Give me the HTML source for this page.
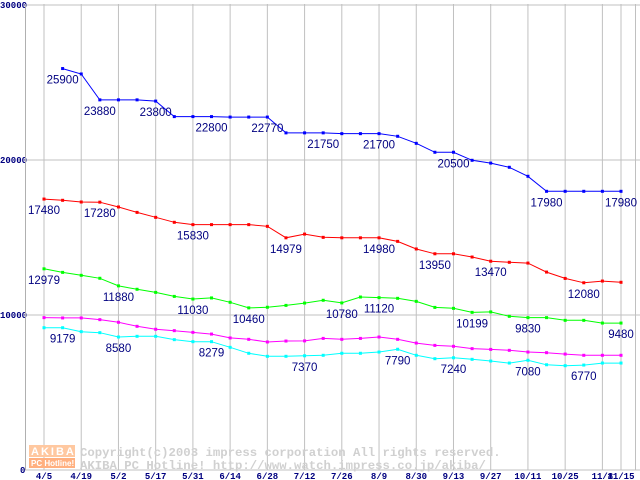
<!DOCTYPE html>
<html><head><meta charset="utf-8"><style>
body{margin:0;background:#fff;width:640px;height:480px;overflow:hidden}
svg{display:block}
.lbl{font-family:"Liberation Sans",sans-serif;font-size:11.5px;fill:#000080}
.ax{font-family:"Liberation Mono",monospace;font-size:9px;font-weight:bold;fill:#000080}
</style></head><body>
<svg id="chart" width="640" height="480" xmlns="http://www.w3.org/2000/svg"></svg>
<script>
const dateLabels=["4/5","4/19","5/2","5/17","5/31","6/14","6/28","7/12","7/26","8/9","8/30","9/13","9/27","10/11","10/25","11/8","11/15"];
const dateIdx=[0,2,4,6,8,10,12,14,16,18,20,22,24,26,28,30,31];
const yTicks=[0,10000,20000,30000];
const blue=[null,25900,25550,23880,23880,23880,23800,22800,22800,22800,22770,22770,22770,21750,21750,21750,21700,21700,21700,21530,21075,20500,20500,19980,19800,19530,18950,17980,17980,17980,17980,17980];
const red=[17480,17400,17290,17280,16970,16620,16300,15980,15830,15830,15830,15830,15720,14979,15220,15010,14980,14980,14980,14750,14260,13950,13950,13740,13470,13400,13350,12770,12360,12080,12190,12110];
const green=[12979,12750,12560,12370,11880,11660,11460,11200,11030,11100,10820,10460,10500,10620,10770,10950,10780,11160,11120,11075,10880,10490,10430,10170,10199,9915,9830,9830,9655,9655,9480,9480];
const magenta=[9830,9810,9810,9700,9530,9270,9080,8990,8880,8770,8520,8430,8260,8320,8330,8490,8430,8490,8580,8430,8190,8040,7980,7830,7780,7720,7610,7570,7480,7400,7400,7400];
const cyan=[9179,9179,8925,8860,8580,8625,8625,8410,8279,8279,7915,7530,7335,7335,7370,7400,7530,7530,7610,7790,7400,7180,7240,7140,7030,6900,7080,6790,6730,6770,6900,6900];
const blueLabels=[[1,"25900"],[3,"23880"],[6,"23800"],[9,"22800"],[12,"22770"],[15,"21750"],[18,"21700"],[22,"20500"],[27,"17980"],[31,"17980"]];
const redLabels=[[0,"17480"],[3,"17280"],[8,"15830"],[13,"14979"],[18,"14980"],[21,"13950"],[24,"13470"],[29,"12080"]];
const greenLabels=[[0,"12979"],[4,"11880"],[8,"11030"],[11,"10460"],[16,"10780"],[18,"11120"],[23,"10199"],[26,"9830"],[31,"9480"]];
const cyanLabels=[[1,"9179"],[4,"8580"],[9,"8279"],[14,"7370"],[19,"7790"],[22,"7240"],[26,"7080"],[29,"6770"]];

const svg=document.getElementById('chart');
const NS="http://www.w3.org/2000/svg";
const X=i=>44+i*(577/31);
const Y=v=>470-v*0.0155;
function mk(tag,attrs,parent){const e=document.createElementNS(NS,tag);for(const k in attrs)e.setAttribute(k,attrs[k]);(parent||svg).appendChild(e);return e;}

dateIdx.forEach((d,k)=>{
  const l=mk('line',{x1:X(d),x2:X(d),y1:4,y2:470,stroke:'#c0c0c0','stroke-width':1});
  
  
  const t=mk('text',{x:X(d),y:479,'text-anchor':'middle',class:'ax'});
  t.textContent=dateLabels[k];
  
  
});
yTicks.forEach(v=>{
  const l=mk('line',{x1:25,x2:640,y1:Y(v),y2:Y(v),stroke:'#c0c0c0','stroke-width':1});
  
  
  const t=mk('text',{x:v===0?20:0,y:Y(v)+3,class:'ax'});
  t.textContent=String(v);
  
  
});
const ax=mk('line',{x1:25.5,x2:25.5,y1:4,y2:470,stroke:'#b0b0b0','stroke-width':1});


const rb=mk('line',{x1:635.5,x2:635.5,y1:4,y2:470,stroke:'#c0c0c0','stroke-width':1});



const wm=mk('g',{});


mk('rect',{x:29,y:445,width:46,height:12,fill:'#ffc8a0'},wm);
mk('rect',{x:29,y:458,width:46,height:10,fill:'#ffb080'},wm);
const w1=mk('text',{x:31,y:455,'font-family':'Liberation Sans,sans-serif','font-size':'11','font-weight':'bold',fill:'#fff','letter-spacing':'2'},wm);w1.textContent='AKIBA';
const w2=mk('text',{x:31,y:466,'font-family':'Liberation Sans,sans-serif','font-size':'8','font-weight':'bold',fill:'#fff'},wm);w2.textContent='PC Hotline!';
const w3=mk('text',{x:80,y:456,'font-family':'Liberation Mono,monospace','font-size':'12.3','font-weight':'bold',fill:'#d0d0d0'},wm);w3.textContent='Copyright(c)2003 impress corporation All rights reserved.';
const w4=mk('text',{x:80,y:469,'font-family':'Liberation Mono,monospace','font-size':'12.3','font-weight':'bold',fill:'#d0d0d0'},wm);w4.textContent='AKIBA PC Hotline!  http://www.watch.impress.co.jp/akiba/';

function series(data,color,name,labels){
  const g=mk('g',{});
  
  
  let pts=[];
  data.forEach((v,i)=>{if(v!==null)pts.push(X(i).toFixed(1)+','+Y(v).toFixed(1));});
  mk('polyline',{points:pts.join(' '),fill:'none',stroke:color,'stroke-width':1},g);
  data.forEach((v,i)=>{
    if(v===null)return;
    const r=mk('rect',{x:X(i)-1.5,y:Y(v)-1.5,width:3,height:3,fill:color},g);
    
    
  });
  labels.forEach(([i,txt])=>{
    const v=data[i];
    const t=mk('text',{x:X(i),y:Y(v)+15,'text-anchor':'middle',class:'lbl'},g);
    t.textContent=txt;
    
    
  });
}
series(blue,'#0000ff','series-blue',blueLabels);
series(red,'#ff0000','series-red',redLabels);
series(green,'#00ff00','series-green',greenLabels);
series(magenta,'#ff00ff','series-magenta',[]);
series(cyan,'#00ffff','series-cyan',cyanLabels);
</script>
</body></html>
